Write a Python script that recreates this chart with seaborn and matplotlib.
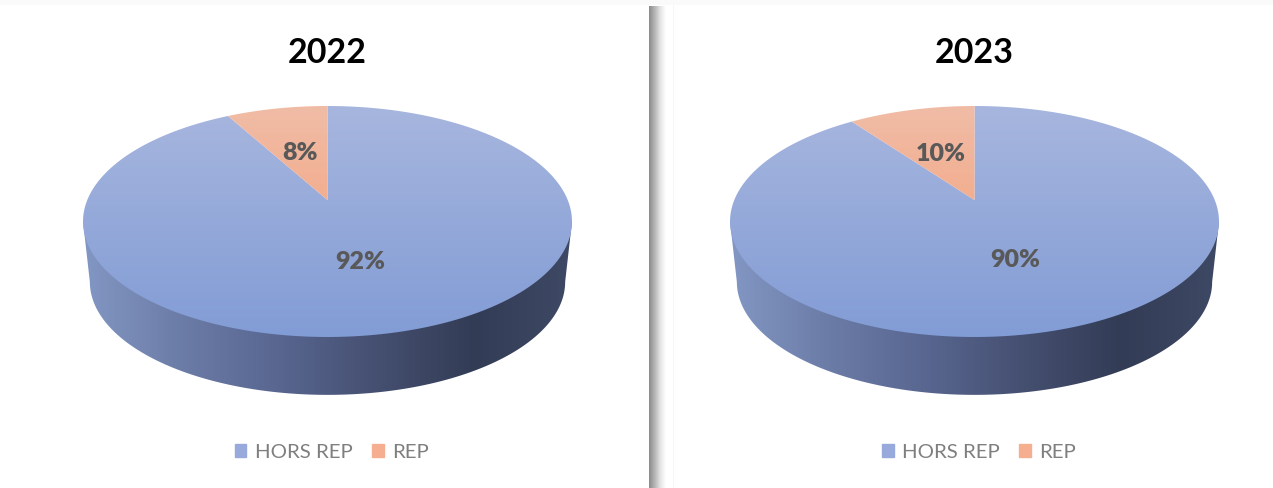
import matplotlib
matplotlib.use('Agg')
import matplotlib.pyplot as plt
import numpy as np
import seaborn as sns
from matplotlib.patches import Patch, Polygon, Rectangle

years = ['2022', '2023']
categories = ['HORS REP', 'REP']
values_2022 = [92, 8]
values_2023 = [90, 10]

FIG_W, FIG_H = 1273, 488
RX, RY = 244.5, 115.5
CY = 221.5
PANEL_HALF = 298
WARP = 0.186  # the pie centre sits above the ellipse centre (perspective)


def warp(x, y):
    # projective map of the unit disc onto itself, moves centre up by WARP
    d = 1 + WARP * y
    return x * np.sqrt(1 - WARP ** 2) / d, (y + WARP) / d


def gradient(ax, cmap, clip, vertical=True):
    ramp = np.linspace(0, 1, 256)
    data = ramp[:, None] if vertical else ramp[None, :]
    im = ax.imshow(data, cmap=cmap, extent=(-1, 1, -1, 1), origin='upper', aspect='auto', vmin=0, vmax=1)
    im.set_clip_path(clip)
    return im


def draw_pie(cx, title, values, legend_shift):
    ax = fig.add_axes([(cx - PANEL_HALF) / FIG_W, 0, 2 * PANEL_HALF / FIG_W, 1])

    # side wall
    t = np.linspace(np.pi, 2 * np.pi, 200)
    rim_x = np.r_[-1, 0.972 * np.cos(t), 1]
    rim_y = np.r_[0, -0.523 + 0.978 * np.sin(t), 0]
    wall = Polygon(np.c_[rim_x, rim_y], closed=True, fc='none', ec='none')
    ax.add_patch(wall)
    wall_im = gradient(ax, wall_cmap, wall, vertical=False)
    wall_im.set_extent((-1, 1, -1.6, 0.2))

    wedges, _, pct = ax.pie(values, startangle=90, counterclock=False, radius=1, pctdistance=0.5,
                            autopct='%.0f%%', wedgeprops={'visible': False},
                            textprops={'color': '#595959', 'fontsize': 18, 'fontweight': 'heavy'})

    # top face, from the wedge angles the pie computed
    for wedge, cmap in zip(wedges, [blue_cmap, orange_cmap]):
        a = np.radians(np.linspace(wedge.theta1, wedge.theta2, 200))
        x, y = warp(np.cos(a), np.sin(a))
        ax_, ay_ = warp(0.0, 0.0)
        face = Polygon(np.c_[np.r_[ax_, x], np.r_[ay_, y]], closed=True, fc='none', ec='none')
        ax.add_patch(face)
        gradient(ax, cmap, face)

    for label in pct:
        px, py = label.get_position()
        wx, wy = warp(px, py)
        label.set_position((wx, wy - 0.02))
        label.set_zorder(5)

    ax.set_aspect('auto')
    ax.set_xlim(-PANEL_HALF / RX, PANEL_HALF / RX)
    ax.set_ylim(-(FIG_H - CY) / RY, CY / RY)
    ax.axis('off')

    ax.set_title(title, y=1 - 61 / FIG_H, va='center', fontsize=24.5, fontweight='bold', color='black')

    handles = [Patch(color=c, label=n) for c, n in zip(legend_colors, categories)]
    ax.legend(handles=handles, loc='center', ncol=2, frameon=False, fontsize=14.7, labelcolor='#7f7f7f',
              bbox_to_anchor=(0.5 + legend_shift / (2 * PANEL_HALF), 1 - 452 / FIG_H),
              handlelength=0.58, handleheight=0.58, handletextpad=0.4, columnspacing=0.95)


sns.set_theme(style='white')
plt.rcParams['font.family'] = ['Lato', 'DejaVu Sans']

blue_cmap = sns.blend_palette(['#A7B6DE', '#829CD5'], as_cmap=True)
orange_cmap = sns.blend_palette(['#F0BCA6', '#F79A70'], as_cmap=True)
wall_cmap = sns.blend_palette(['#8397C4', '#6B7CA6', '#586690', '#454F70', '#333C55', '#3E4965'], as_cmap=True)
legend_colors = ['#98AADB', '#F6AE90']

fig = plt.figure(figsize=(FIG_W / 100, FIG_H / 100), dpi=100, facecolor='white')

# page background: panel edge shadow and faint borders
bg = fig.add_axes([0, 0, 1, 1], zorder=-1)
bg.set_xlim(0, FIG_W)
bg.set_ylim(FIG_H, 0)
bg.axis('off')
bg.add_patch(Rectangle((0, 0), FIG_W, 5, fc='#fafafa', ec='none'))
bg.add_patch(Rectangle((673, 5), 1, FIG_H, fc='#f6f6f6', ec='none'))
shadow = sns.blend_palette(['#8c8c8c', '#b5b5b5', '#e4e4e4', '#ffffff'], as_cmap=True)
bg.imshow(np.linspace(0, 1, 64)[None, :], cmap=shadow, extent=(649, 666, FIG_H, 6), aspect='auto')
bg.set_xlim(0, FIG_W)
bg.set_ylim(FIG_H, 0)

draw_pie(327.5, years[0], values_2022, 4)
draw_pie(974.5, years[1], values_2023, 4.5)

fig.savefig('out.png', dpi=100)
